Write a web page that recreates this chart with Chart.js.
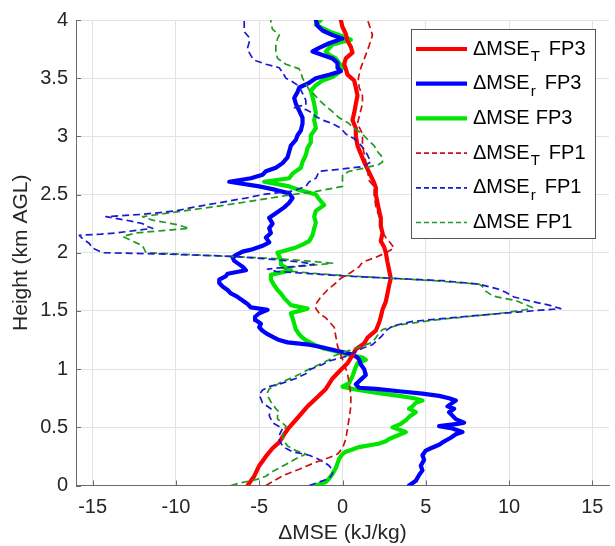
<!DOCTYPE html>
<html>
<head>
<meta charset="utf-8">
<script src="https://cdn.jsdelivr.net/npm/chart.js@4.4.1/dist/chart.umd.min.js"></script>
<style>
html,body{margin:0;padding:0;background:#ffffff;}
#wrap{width:615px;height:546px;position:relative;}
</style>
</head>
<body>
<div id="wrap"><canvas id="c" width="615" height="546"></canvas></div>
<script>
// ---- tick values / labels ----
const xTicks = [-15, -10, -5, 0, 5, 10, 15];
const xTickLabels = ['-15', '-10', '-5', '0', '5', '10', '15'];
const yTicks = [0, 0.5, 1, 1.5, 2, 2.5, 3, 3.5, 4];
const yTickLabels = ['0', '0.5', '1', '1.5', '2', '2.5', '3', '3.5', '4'];
const xTitle = 'ΔMSE (kJ/kg)';
const yTitle = 'Height (km AGL)';

// ---- series names (_X = subscript) ----
const seriesNames = ['ΔMSE_T FP3', 'ΔMSE_r FP3', 'ΔMSE FP3', 'ΔMSE_T FP1', 'ΔMSE_r FP1', 'ΔMSE FP1'];

// ---- series values: [height km, ΔMSE kJ/kg] along each profile ----
const T_FP3 = [[0,-5.7],[0.08,-5.3],[0.17,-5.0],[0.25,-4.6],[0.32,-4.2],[0.37,-3.8],[0.44,-3.5],[0.50,-3.2],[0.58,-2.7],[0.68,-2.1],
  [0.76,-1.5],[0.83,-1.0],[0.92,-0.6],[0.98,-0.2],[1.05,0.3],[1.12,0.6],[1.17,0.8],[1.22,1.3],[1.27,1.5],[1.33,2.0],
  [1.40,2.2],[1.45,2.3],[1.51,2.4],[1.58,2.6],[1.65,2.7],[1.72,2.8],[1.78,2.9],[1.85,2.8],[1.92,2.7],[2.00,2.6],
  [2.05,2.5],[2.10,2.3],[2.17,2.4],[2.23,2.3],[2.30,2.3],[2.36,2.2],[2.43,2.1],[2.50,2.0],[2.56,2.0],[2.60,1.9],
  [2.66,1.7],[2.72,1.5],[2.78,1.3],[2.85,1.1],[2.92,0.9],[3.00,0.8],[3.07,0.8],[3.14,0.6],[3.20,0.7],[3.28,0.8],
  [3.35,0.9],[3.42,0.8],[3.48,0.7],[3.53,0.3],[3.58,0.2],[3.62,0.1],[3.67,0.2],[3.72,0.6],[3.77,0.5],[3.82,0.3],
  [3.88,0.2],[3.94,0.0],[4.00,-0.1]];

const r_FP3 = [[0,4.0],[0.04,4.4],[0.09,4.6],[0.13,4.8],[0.17,4.7],[0.22,4.9],[0.26,4.8],[0.30,5.0],[0.32,5.3],[0.35,5.8],
  [0.37,6.0],[0.41,6.5],[0.44,6.8],[0.46,7.2],[0.49,6.6],[0.51,5.8],[0.53,6.9],[0.54,7.3],[0.57,6.8],[0.60,6.6],
  [0.63,6.4],[0.66,6.7],[0.68,6.3],[0.71,6.6],[0.73,6.8],[0.75,6.4],[0.77,5.8],[0.79,4.8],[0.81,3.4],[0.83,2.0],
  [0.84,1.0],[0.87,0.8],[0.91,1.1],[0.95,1.4],[1.00,1.3],[1.04,1.1],[1.08,1.0],[1.10,0.9],[1.13,0.5],[1.16,-0.4],
  [1.19,-1.3],[1.21,-2.0],[1.23,-3.3],[1.25,-3.8],[1.27,-4.1],[1.30,-4.5],[1.33,-4.8],[1.36,-5.0],[1.39,-4.9],[1.42,-5.2],
  [1.45,-5.25],[1.48,-5.0],[1.51,-4.5],[1.53,-5.5],[1.56,-5.7],[1.59,-6.0],[1.62,-6.3],[1.65,-6.7],[1.68,-6.9],[1.71,-7.2],
  [1.74,-7.4],[1.77,-7.4],[1.80,-7.0],[1.82,-6.9],[1.85,-5.8],[1.88,-6.0],[1.90,-6.2],[1.93,-6.5],[1.96,-6.6],[1.98,-6.4],
  [2.01,-6.0],[2.03,-5.4],[2.06,-4.8],[2.09,-4.4],[2.13,-4.6],[2.17,-4.3],[2.21,-4.4],[2.25,-4.2],[2.30,-4.4],[2.34,-4.0],
  [2.39,-3.5],[2.43,-3.2],[2.47,-3.0],[2.51,-3.2],[2.54,-4.0],[2.57,-5.0],[2.61,-6.8],[2.64,-5.5],[2.67,-4.8],[2.70,-4.6],
  [2.73,-4.0],[2.77,-3.6],[2.82,-3.3],[2.87,-3.2],[2.92,-3.1],[2.97,-2.8],[3.01,-2.7],[3.05,-2.5],[3.11,-2.4],[3.16,-2.4],
  [3.22,-2.6],[3.28,-2.8],[3.33,-2.9],[3.38,-2.7],[3.42,-2.6],[3.46,-2.0],[3.50,-1.6],[3.53,-0.8],[3.56,-0.1],[3.59,-0.3],
  [3.63,-0.3],[3.67,-0.6],[3.70,-1.2],[3.73,-1.8],[3.76,-1.4],[3.80,-0.8],[3.84,0.0],[3.87,-0.6],[3.91,-1.2],[3.95,-1.5],[4.00,-1.6]];

const M_FP3 = [[0,-1.6],[0.03,-1.0],[0.06,-0.8],[0.10,-0.6],[0.15,-0.4],[0.19,-0.3],[0.23,-0.2],[0.27,0.0],[0.29,0.2],[0.31,0.6],
  [0.33,1.0],[0.35,1.8],[0.36,2.2],[0.38,2.6],[0.40,2.8],[0.43,3.3],[0.46,3.8],[0.48,3.4],[0.50,3.0],[0.53,3.5],
  [0.56,3.8],[0.59,4.0],[0.63,4.4],[0.66,4.0],[0.68,4.2],[0.71,4.4],[0.73,4.8],[0.75,4.3],[0.77,3.4],[0.79,2.4],
  [0.81,1.4],[0.83,0.6],[0.85,0.0],[0.88,0.4],[0.91,0.5],[0.94,0.6],[0.98,0.7],[1.02,0.8],[1.05,0.9],[1.08,1.4],
  [1.10,1.2],[1.13,0.2],[1.16,-0.6],[1.18,-1.2],[1.21,-1.7],[1.24,-2.1],[1.27,-2.4],[1.30,-2.6],[1.34,-2.8],[1.39,-2.9],
  [1.44,-3.0],[1.48,-3.1],[1.52,-2.1],[1.55,-3.1],[1.58,-3.3],[1.61,-3.5],[1.65,-3.7],[1.68,-3.9],[1.72,-4.1],[1.77,-4.3],
  [1.81,-4.3],[1.85,-3.1],[1.88,-3.5],[1.90,-3.7],[1.94,-3.7],[1.97,-3.8],[2.00,-3.9],[2.04,-2.9],[2.07,-2.4],[2.10,-2.0],
  [2.15,-1.8],[2.21,-1.7],[2.26,-1.6],[2.31,-1.7],[2.36,-1.6],[2.41,-1.1],[2.46,-1.4],[2.50,-1.6],[2.54,-2.6],[2.57,-3.2],
  [2.61,-4.7],[2.64,-3.2],[2.68,-3.0],[2.73,-2.5],[2.78,-2.4],[2.84,-2.2],[2.90,-2.1],[2.95,-1.9],[3.01,-1.9],[3.07,-1.6],
  [3.14,-1.7],[3.20,-1.6],[3.28,-1.7],[3.34,-1.8],[3.39,-1.9],[3.44,-1.6],[3.48,-1.2],[3.51,-0.6],[3.55,-0.2],[3.59,0.0],
  [3.63,-0.2],[3.67,-0.4],[3.70,-0.8],[3.73,-1.0],[3.76,-0.8],[3.79,-0.6],[3.83,0.5],[3.86,0.0],[3.89,-0.6],[3.93,-1.2],[3.96,-1.6],[4.00,-1.3]];

const T_FP1 = [[0,-4.6],[0.05,-4.0],[0.09,-3.5],[0.14,-2.6],[0.20,-1.6],[0.24,-0.8],[0.27,-0.3],[0.32,0.0],[0.40,0.2],[0.49,0.3],
  [0.58,0.4],[0.68,0.5],[0.78,0.5],[0.88,0.4],[0.96,0.3],[1.05,0.1],[1.12,-0.1],[1.20,-0.3],[1.28,-0.4],[1.36,-0.5],
  [1.44,-1.0],[1.48,-1.4],[1.52,-1.6],[1.56,-1.6],[1.62,-1.3],[1.68,-0.9],[1.74,-0.4],[1.78,-0.1],[1.83,0.5],[1.88,1.0],
  [1.92,1.2],[1.96,2.0],[2.00,2.6],[2.04,3.1],[2.08,2.9],[2.13,2.6],[2.18,2.4],[2.25,2.3],[2.31,2.2],[2.40,2.0],
  [2.50,1.9],[2.57,1.9],[2.62,1.6],[2.71,1.5],[2.78,1.4],[2.85,1.3],[2.92,1.2],[3.02,1.2],[3.11,0.9],[3.17,1.0],
  [3.28,1.2],[3.35,1.2],[3.42,1.0],[3.50,0.95],[3.59,1.1],[3.70,1.4],[3.78,1.6],[3.87,1.8],[3.96,1.6],[4.00,1.5]];

const r_FP1 = [[0,-2.0],[0.03,-1.4],[0.06,-0.8],[0.10,-0.6],[0.13,-0.6],[0.17,-0.8],[0.20,-1.1],[0.23,-1.5],[0.26,-2.0],[0.29,-3.0],
  [0.32,-3.4],[0.34,-3.6],[0.39,-3.8],[0.43,-3.8],[0.49,-3.6],[0.54,-4.2],[0.60,-4.4],[0.66,-4.3],[0.71,-4.8],[0.78,-5.0],
  [0.82,-4.8],[0.85,-4.4],[0.88,-3.6],[0.92,-2.8],[0.96,-2.2],[1.00,-1.9],[1.04,-1.2],[1.07,-0.8],[1.10,0.0],[1.12,0.4],
  [1.15,0.8],[1.18,1.2],[1.21,1.8],[1.25,2.1],[1.29,2.4],[1.33,2.6],[1.37,3.0],[1.41,4.2],[1.45,7.2],[1.49,10.5],
  [1.51,12.2],[1.52,13.1],[1.55,12.4],[1.58,11.4],[1.62,10.3],[1.66,9.8],[1.69,9.3],[1.73,8.2],[1.76,6.0],[1.78,3.0],
  [1.80,0.2],[1.82,-2.0],[1.84,-4.0],[1.86,-4.5],[1.88,-3.0],[1.90,-1.7],[1.92,-2.5],[1.95,-4.8],[1.97,-6.8],[1.99,-11.0],
  [2.00,-14.4],[2.04,-15.0],[2.08,-15.2],[2.12,-15.6],[2.15,-15.8],[2.16,-14.5],[2.17,-13.6],[2.19,-12.5],[2.21,-11.4],[2.23,-11.8],
  [2.25,-12.0],[2.28,-13.0],[2.31,-14.2],[2.33,-12.0],[2.36,-10.0],[2.39,-9.0],[2.43,-7.4],[2.47,-5.8],[2.50,-4.8],[2.53,-3.0],
  [2.57,-2.2],[2.61,-2.0],[2.64,-1.6],[2.67,-1.5],[2.70,-1.4],[2.72,0.0],[2.74,1.2],[2.78,1.7],[2.84,1.5],[2.89,1.3],
  [2.94,1.0],[2.98,0.7],[3.02,0.2],[3.07,-0.1],[3.11,-0.6],[3.14,-1.2],[3.17,-1.6],[3.20,-1.8],[3.23,-2.2],[3.25,-3.0],
  [3.27,-2.2],[3.31,-2.2],[3.37,-2.4],[3.43,-2.6],[3.47,-3.0],[3.50,-3.4],[3.55,-3.6],[3.59,-3.8],[3.62,-4.6],[3.65,-5.2],
  [3.67,-5.4],[3.72,-5.6],[3.76,-5.7],[3.81,-5.6],[3.85,-5.6],[3.90,-5.9],[3.96,-5.9],[4.00,-5.9]];

const M_FP1 = [[0,-6.7],[0.02,-6.2],[0.05,-5.2],[0.08,-4.6],[0.12,-4.2],[0.15,-3.8],[0.19,-3.3],[0.23,-2.8],[0.27,-2.2],[0.30,-2.8],
  [0.34,-3.3],[0.38,-3.5],[0.43,-3.6],[0.47,-3.5],[0.51,-3.4],[0.55,-3.7],[0.57,-3.9],[0.60,-3.9],[0.63,-3.8],[0.66,-4.0],
  [0.68,-4.1],[0.72,-4.3],[0.77,-4.5],[0.80,-4.5],[0.83,-4.4],[0.86,-4.0],[0.88,-3.8],[0.91,-3.3],[0.94,-2.8],[0.97,-2.4],
  [1.00,-2.0],[1.04,-1.4],[1.08,-0.8],[1.11,-0.6],[1.15,0.2],[1.19,1.0],[1.23,1.8],[1.27,2.0],[1.31,2.2],[1.34,2.4],
  [1.38,3.4],[1.42,5.4],[1.45,7.4],[1.48,9.5],[1.51,11.0],[1.53,11.4],[1.56,10.9],[1.59,10.4],[1.61,9.6],[1.63,9.0],
  [1.67,8.6],[1.71,8.4],[1.73,8.2],[1.76,5.5],[1.78,3.0],[1.80,0.5],[1.82,-1.5],[1.84,-3.0],[1.87,-3.6],[1.89,-2.0],
  [1.91,-0.6],[1.93,-2.2],[1.95,-4.0],[1.97,-7.0],[1.99,-10.0],[2.00,-11.8],[2.03,-11.9],[2.06,-12.0],[2.10,-12.6],[2.14,-13.2],
  [2.17,-12.4],[2.19,-10.8],[2.21,-9.2],[2.24,-9.9],[2.26,-10.6],[2.28,-11.4],[2.31,-12.0],[2.34,-10.5],[2.38,-8.5],[2.41,-7.0],
  [2.45,-5.2],[2.50,-3.0],[2.53,-1.5],[2.57,0.0],[2.62,0.0],[2.67,0.0],[2.70,0.4],[2.73,1.4],[2.76,2.2],[2.78,2.4],
  [2.82,2.4],[2.87,2.1],[2.92,1.9],[2.96,1.6],[3.02,1.2],[3.07,0.7],[3.12,0.3],[3.16,-0.2],[3.20,-0.5],[3.26,-1.0],
  [3.31,-1.4],[3.36,-1.7],[3.40,-2.0],[3.45,-2.2],[3.50,-2.4],[3.55,-2.5],[3.58,-2.6],[3.62,-3.4],[3.67,-3.9],[3.73,-4.0],
  [3.79,-4.0],[3.84,-3.9],[3.87,-3.8],[3.92,-4.2],[3.97,-4.3],[4.00,-4.3]];

const seriesData = [T_FP3, r_FP3, M_FP3, T_FP1, r_FP1, M_FP1];
const seriesColors = ['#ff0000', '#0000ff', '#00e600', '#cc1111', '#1a1ad0', '#229922'];

const FONT = '"Liberation Sans", Arial, Helvetica, sans-serif';
const AXIS_COLOR = '#6a6a6a';
const TEXT_COLOR = '#262626';

const datasets = seriesData.map((arr, i) => {
  const dashed = i >= 3;
  return {
    label: seriesNames[i],
    data: arr.map(p => ({ x: p[1], y: p[0] })),
    showLine: true,
    borderColor: seriesColors[i],
    backgroundColor: seriesColors[i],
    borderWidth: dashed ? 1.7 : 4.2,
    borderDash: dashed ? [7, 4] : [],
    borderJoinStyle: 'round',
    borderCapStyle: dashed ? 'butt' : 'round',
    pointRadius: 0,
    tension: 0,
    fill: false,
    order: dashed ? 0 : 1
  };
});

// inward tick marks (MATLAB style)
const innerTicks = {
  id: 'innerTicks',
  afterDatasetsDraw(chart) {
    const c = chart.ctx, xs = chart.scales.x, ys = chart.scales.y, a = chart.chartArea;
    c.save();
    c.strokeStyle = AXIS_COLOR; c.lineWidth = 1;
    c.beginPath();
    xTicks.forEach(v => { const px = Math.round(xs.getPixelForValue(v)) + 0.5; c.moveTo(px, a.bottom); c.lineTo(px, a.bottom - 5); });
    yTicks.forEach(v => { const py = Math.round(ys.getPixelForValue(v)) + 0.5; c.moveTo(a.left, py); c.lineTo(a.left + 5, py); });
    c.stroke();
    c.restore();
  }
};

// legend with subscripts, drawn inside the axes
const boxLegend = {
  id: 'boxLegend',
  afterDraw(chart) {
    const c = chart.ctx;
    const bx = 411, by = 29, bw = 184, bh = 209;
    c.save();
    c.fillStyle = '#ffffff';
    c.fillRect(bx, by, bw, bh);
    c.strokeStyle = '#555555'; c.lineWidth = 1;
    c.strokeRect(bx + 0.5, by + 0.5, bw, bh);
    chart.data.datasets.forEach((ds, i) => {
      const y = 49 + i * 34.7;
      c.beginPath();
      c.strokeStyle = ds.borderColor;
      c.lineWidth = ds.borderWidth;
      c.setLineDash(ds.borderDash.length ? [5, 3] : []);
      c.lineCap = 'butt';
      c.moveTo(416, y); c.lineTo(467, y);
      c.stroke();
      c.setLineDash([]);
      const parts = ds.label.split(' ');
      const main = parts[0];
      const rest = parts.slice(1).join(' ');
      let txt = main, sub = '';
      const k = main.indexOf('_');
      if (k >= 0) { txt = main.slice(0, k); sub = main.slice(k + 1); }
      c.fillStyle = '#000000';
      c.textBaseline = 'middle';
      c.textAlign = 'left';
      c.font = '20px ' + FONT;
      let x = 473;
      c.fillText(txt, x, y);
      x += c.measureText(txt).width;
      if (sub) {
        c.font = '15px ' + FONT;
        c.fillText(sub, x + 1, y + 8);
        x += c.measureText(sub).width + 1;
      }
      c.font = '20px ' + FONT;
      x += sub ? 9 : 6;
      c.fillText(rest, x, y);
    });
    c.restore();
  }
};

new Chart(document.getElementById('c'), {
  type: 'scatter',
  data: { datasets },
  options: {
    responsive: false,
    animation: false,
    devicePixelRatio: 1,
    layout: { padding: { top: 15, right: 6, left: 0, bottom: 0 } },
    plugins: { legend: { display: false }, tooltip: { enabled: false } },
    scales: {
      x: {
        type: 'linear', min: -16, max: 16,
        afterBuildTicks: s => { s.ticks = xTicks.map(v => ({ value: v })); },
        afterFit: s => { s.height = 60.5; },
        grid: { color: '#e3e3e3', lineWidth: 1, drawTicks: false },
        border: { display: true, color: AXIS_COLOR, width: 1 },
        ticks: { color: TEXT_COLOR, font: { family: FONT, size: 20 }, padding: 10, maxRotation: 0,
                 callback: v => xTickLabels[xTicks.indexOf(v)] },
        title: { display: true, text: xTitle, color: TEXT_COLOR, font: { family: FONT, size: 21 }, padding: { top: 0, bottom: 0 } }
      },
      y: {
        type: 'linear', min: 0, max: 4,
        afterBuildTicks: s => { s.ticks = yTicks.map(v => ({ value: v })); },
        afterFit: s => { s.width = 76; },
        grid: { color: '#e3e3e3', lineWidth: 1, drawTicks: false },
        border: { display: true, color: AXIS_COLOR, width: 1 },
        ticks: { color: TEXT_COLOR, font: { family: FONT, size: 20 }, padding: 8,
                 callback: v => yTickLabels[yTicks.indexOf(v)] },
        title: { display: true, text: yTitle, color: TEXT_COLOR, font: { family: FONT, size: 21 }, padding: { top: 9, bottom: 0 } }
      }
    }
  },
  plugins: [innerTicks, boxLegend]
});
</script>
</body>
</html>
